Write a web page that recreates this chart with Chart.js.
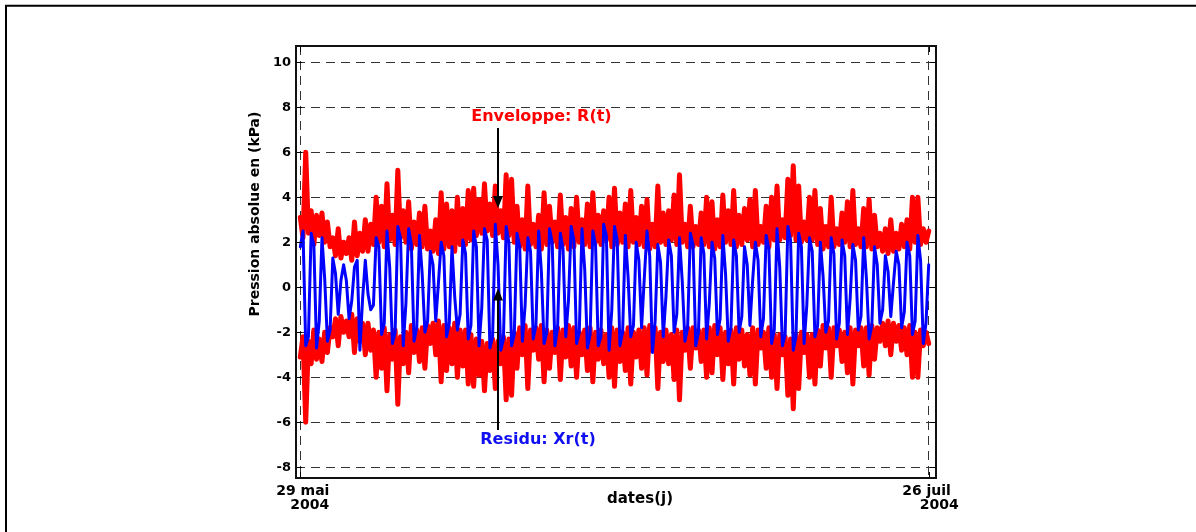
<!DOCTYPE html>
<html>
<head>
<meta charset="utf-8">
<script src="https://cdn.jsdelivr.net/npm/chart.js@4"></script>
<style>
  html, body { margin: 0; padding: 0; background: #fff; }
  canvas { display: block; }
</style>
</head>
<body>
<canvas id="pression" width="1196" height="532"></canvas>
<script>
// pas d'echantillonnage en jours (6 h)
const pasJours = 0.25;

// residu Xr(t) en kPa, 4 valeurs par jour depuis le 29 mai 2004
const residu = [
    1.8, 2.5, -2.6, -2.2,   2.4, 1.9, -2.7, -1.5,   2.2, 0.4, -2.4, -1.9,
    1.3, 0.6, -1.2, 0.3,    1.0, 0.3, -1.4, -0.6,   0.9, 1.2, -2.8, -0.5,
    1.2, -0.3, -1.0, -0.8,  2.2, 1.8, -2.1, -1.6,   2.5, 0.9, -2.5, -2.0,
    2.7, 2.2, -2.6, -0.7,   2.6, 1.9, -2.4, -1.8,   2.3, 0.6, -2.0, -1.5,
    1.6, 1.0, -1.5, 0.2,    2.0, 1.4, -2.2, -1.6,   1.8, -0.4, -1.9, -1.2,
    2.1, 1.5, -2.3, -1.7,   2.5, 1.8, -2.6, -0.9,   2.6, 2.1, -2.7, -2.2,
    2.8, 1.0, -2.8, -2.3,   2.7, 2.0, -2.6, -2.1,   2.4, 1.8, -2.4, -0.8,
    2.2, 1.6, -2.3, -1.7,   2.5, 0.7, -2.5, -2.0,   2.6, 2.0, -2.6, -1.8,
    2.4, 1.7, -2.2, -0.6,   2.7, 2.1, -2.5, -2.0,   2.6, 0.8, -2.7, -2.1,
    2.5, 1.9, -2.6, -2.2,   2.8, 2.3, -2.8, -1.0,   2.7, 2.1, -2.6, -2.0,
    2.3, 0.5, -2.2, -1.7,   2.0, 1.2, -1.8, 0.4,    2.5, 1.4, -2.9, -1.5,
    1.9, 1.1, -2.2, -0.4,   2.1, 1.4, -2.0, -1.2,   2.2, 0.3, -2.4, -1.8,
    2.4, 1.9, -2.6, -2.0,   2.2, 1.5, -2.3, -0.7,   2.0, 1.3, -2.1, -1.4,
    2.3, 0.6, -2.4, -1.8,   2.1, 1.4, -2.0, -1.3,   1.8, 1.0, -1.7, 0.3,
    2.0, 1.2, -2.2, -1.4,   2.3, 1.7, -2.5, -1.9,   2.6, 0.9, -2.6, -2.1,
    2.7, 2.1, -2.8, -2.2,   2.4, 1.8, -2.5, -0.8,   2.2, 1.6, -2.2, -1.7,
    2.0, 0.5, -2.0, -1.5,   2.2, 1.5, -2.3, -1.6,   2.1, 1.4, -2.1, -0.5,
    1.9, 1.2, -1.9, -1.3,   2.2, 0.4, -2.3, -1.7,   1.8, 1.0, -1.6, -1.0,
    1.4, 0.7, -1.3, 0.2,    1.6, 1.0, -1.8, -1.1,   2.0, 1.4, -2.1, -1.5,
    2.3, 1.2, -2.5, -1.6,   1.0
];

// enveloppe R(t) en kPa, memes instants ; tracee en +R et -R
const enveloppe = [
    3.1, 2.2, 6.0, 2.4,   3.4, 1.9, 3.2, 2.3,   3.3, 2.0, 2.9, 1.8,
    2.2, 1.4, 2.6, 1.3,   2.0, 1.5, 2.2, 1.2,   2.9, 1.4, 2.4, 1.6,
    3.0, 1.6, 2.8, 1.9,   4.0, 2.0, 3.6, 1.8,   4.6, 2.1, 3.2, 1.9,
    5.2, 2.2, 3.4, 2.0,   3.8, 1.7, 2.9, 1.9,   3.3, 1.8, 3.6, 1.7,
    2.5, 1.6, 3.0, 1.5,   4.2, 1.7, 3.7, 1.8,   3.4, 1.6, 4.0, 1.9,
    3.5, 1.9, 4.3, 2.1,   4.4, 2.3, 3.9, 2.4,   4.6, 2.5, 3.7, 2.3,
    4.5, 2.4, 3.4, 2.2,   5.0, 2.3, 4.8, 2.0,   3.6, 1.8, 3.0, 1.7,
    4.5, 1.9, 2.8, 1.8,   3.2, 1.7, 4.2, 1.9,   3.6, 2.0, 2.9, 1.8,
    4.1, 1.9, 3.1, 1.7,   3.5, 1.8, 4.0, 2.0,   3.0, 1.9, 3.7, 1.8,
    4.2, 2.0, 3.2, 1.9,   3.4, 2.1, 4.0, 1.8,   4.4, 1.9, 3.3, 2.0,
    3.7, 1.8, 4.3, 2.0,   3.1, 1.9, 3.6, 1.8,   3.9, 1.7, 2.8, 1.8,
    4.5, 2.0, 3.3, 1.9,   3.4, 2.1, 4.1, 1.9,   5.0, 2.0, 2.8, 1.8,
    3.6, 1.8, 2.7, 1.9,   3.3, 1.9, 4.0, 1.8,   3.8, 1.7, 3.0, 1.8,
    4.1, 2.0, 3.4, 1.9,   4.3, 1.8, 3.2, 1.9,   3.5, 2.1, 3.9, 1.8,
    4.3, 1.9, 2.7, 2.0,   3.6, 1.8, 4.0, 2.1,   4.5, 2.1, 3.0, 2.2,
    4.8, 2.3, 5.4, 2.1,   4.5, 2.0, 2.9, 2.1,   4.0, 2.1, 4.3, 1.9,
    3.5, 1.7, 2.7, 1.8,   4.0, 1.8, 2.6, 1.9,   3.3, 2.0, 3.8, 1.8,
    4.3, 1.9, 2.6, 1.8,   3.5, 1.8, 3.9, 1.7,   3.2, 1.8, 2.4, 1.6,
    2.6, 1.5, 3.0, 1.6,   2.4, 1.7, 2.8, 1.8,   3.0, 1.7, 4.0, 2.0,
    4.0, 1.9, 2.6, 2.0,   2.5
];

const yTicks = [-8, -6, -4, -2, 0, 2, 4, 6, 8, 10];
const xTicks = [0, 58];
const xTickLabels = [['29 mai', '2004'], ['26 juil', '2004']];

const police = '"DejaVu Sans", Verdana, sans-serif';

function points(valeurs, signe) {
    return valeurs.map((v, i) => ({ x: i * pasJours, y: signe * v }));
}

function fleche(ctx, x, y0, y1) {
    // trait vertical de y0 vers la pointe y1
    const dir = y1 > y0 ? 1 : -1;
    ctx.beginPath();
    ctx.moveTo(x, y0);
    ctx.lineTo(x, y1 - dir * 10);
    ctx.stroke();
    ctx.beginPath();
    ctx.moveTo(x, y1);
    ctx.lineTo(x - 5, y1 - dir * 12);
    ctx.lineTo(x + 5, y1 - dir * 12);
    ctx.closePath();
    ctx.fill();
}

const decor = {
    id: 'decor',
    afterDraw(chart) {
        const ctx = chart.ctx;
        const a = chart.chartArea;
        const sx = chart.scales.x, sy = chart.scales.y;
        ctx.save();

        // cadre de la figure
        ctx.strokeStyle = '#000';
        ctx.lineWidth = 2;
        ctx.beginPath();
        ctx.moveTo(1196, 5.7);
        ctx.lineTo(6, 5.7);
        ctx.lineTo(6, 532);
        ctx.stroke();

        // petites graduations vers l'interieur
        ctx.lineWidth = 1;
        ctx.strokeStyle = '#000';
        yTicks.forEach(v => {
            const py = Math.round(sy.getPixelForValue(v)) + 0.5;
            ctx.beginPath();
            ctx.moveTo(a.left, py); ctx.lineTo(a.left + 6, py);
            ctx.moveTo(a.right, py); ctx.lineTo(a.right - 6, py);
            ctx.stroke();
        });
        xTicks.forEach(v => {
            const px = Math.round(sx.getPixelForValue(v)) + 0.5;
            ctx.beginPath();
            ctx.moveTo(px, a.bottom); ctx.lineTo(px, a.bottom - 6);
            ctx.moveTo(px, a.top); ctx.lineTo(px, a.top + 6);
            ctx.stroke();
        });

        // boite du trace
        ctx.lineWidth = 2;
        ctx.strokeStyle = '#111';
        ctx.strokeRect(a.left, a.top, a.right - a.left, a.bottom - a.top);

        // etiquettes de dates
        ctx.fillStyle = '#000';
        ctx.font = 'bold 14px ' + police;
        ctx.textAlign = 'center';
        ctx.textBaseline = 'middle';
        const decal = [[2.5, 9.5], [-2.2, 10.6]];
        xTicks.forEach((v, i) => {
            const px = sx.getPixelForValue(v);
            ctx.fillText(xTickLabels[i][0], px + decal[i][0], a.bottom + 13);
            ctx.fillText(xTickLabels[i][1], px + decal[i][1], a.bottom + 27);
        });

        // titres des axes
        ctx.font = 'bold 15px ' + police;
        ctx.fillText('dates(j)', 640, 499);
        ctx.save();
        ctx.translate(255, 214);
        ctx.rotate(-Math.PI / 2);
        ctx.font = 'bold 14px ' + police;
        ctx.fillText('Pression absolue en (kPa)', 0, 0);
        ctx.restore();

        // annotations
        ctx.font = 'bold 16px ' + police;
        ctx.fillStyle = '#ff0000';
        ctx.fillText('Enveloppe: R(t)', sx.getPixelForValue(22.26), sy.getPixelForValue(7.58));
        ctx.fillStyle = '#1010f0';
        ctx.fillText('Residu: Xr(t)', sx.getPixelForValue(21.94), sy.getPixelForValue(-6.76));

        ctx.strokeStyle = '#000';
        ctx.fillStyle = '#000';
        ctx.lineWidth = 2;
        const xf = Math.round(sx.getPixelForValue(18.25));
        fleche(ctx, xf, sy.getPixelForValue(7.08), sy.getPixelForValue(3.52));
        fleche(ctx, xf, sy.getPixelForValue(-6.34), sy.getPixelForValue(-0.05));

        ctx.restore();
    }
};

new Chart(document.getElementById('pression'), {
    type: 'line',
    data: {
        datasets: [
            {
                label: 'Residu: Xr(t)',
                data: points(residu, 1),
                borderColor: '#0000ff',
                borderWidth: 3
            },
            {
                label: 'Enveloppe: R(t)',
                data: points(enveloppe, 1),
                borderColor: '#ff0000',
                borderWidth: 5
            },
            {
                label: 'Enveloppe: -R(t)',
                data: points(enveloppe, -1),
                borderColor: '#ff0000',
                borderWidth: 5
            }
        ]
    },
    options: {
        responsive: false,
        animation: false,
        events: [],
        elements: {
            point: { radius: 0 },
            line: { tension: 0, borderJoinStyle: 'round', borderCapStyle: 'round' }
        },
        layout: { padding: { left: 0, top: 46, right: 260, bottom: 0 } },
        plugins: {
            legend: { display: false },
            tooltip: { enabled: false }
        },
        scales: {
            x: {
                type: 'linear',
                min: -0.397,
                max: 58.674,
                afterBuildTicks: axis => { axis.ticks = xTicks.map(v => ({ value: v })); },
                afterFit: axis => { axis.height = 54; },
                ticks: { display: false },
                grid: { color: '#333', lineWidth: 1, drawTicks: false },
                border: { display: false, dash: [9, 6] }
            },
            y: {
                min: -8.476,
                max: 10.724,
                afterBuildTicks: axis => { axis.ticks = yTicks.map(v => ({ value: v })); },
                afterFit: axis => { axis.width = 296; },
                ticks: {
                    padding: 5,
                    color: '#000',
                    font: { family: police, size: 13, weight: 'bold' }
                },
                grid: { color: '#333', lineWidth: 1, drawTicks: false },
                border: { display: false, dash: [9, 6] }
            }
        }
    },
    plugins: [decor]
});
</script>
</body>
</html>
